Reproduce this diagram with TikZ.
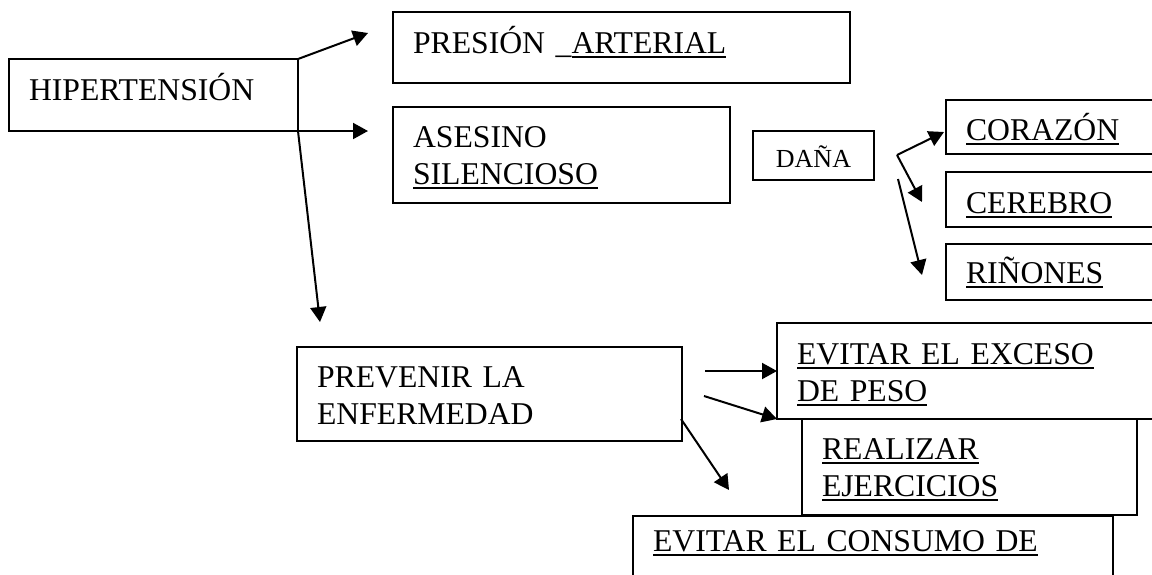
\documentclass[tikz,border=0pt]{standalone}
\usepackage{fontspec}
\setmainfont{Liberation Serif}
\usetikzlibrary{arrows.meta}
\newcommand{\undl}[1]{\leavevmode\setbox0\hbox{#1}\rlap{\rule[-5pt]{\wd0}{2pt}}\box0}

\begin{document}
\begin{tikzpicture}[x=1pt,y=-1pt]
\tikzset{box/.style = {draw,line width=1.5pt,anchor=north west,outer sep=0pt,inner xsep=20pt,inner ysep=0pt,align=left,font={\fontsize{31.7}{37}\selectfont}}}
\tikzset{edge/.style = {->,> = {Triangle[length=15pt,width=16pt]},line width=2pt}}
\useasboundingbox (0,0) rectangle (1152,574);
\clip (0,0) rectangle (1152,574);
% boxes
\node[box,text width=249pt,text height=41pt,text depth=31pt] (hip) at (9,59) {HIPERTENSIÓN};
\node[box,text width=417pt,text height=41pt,text depth=30pt] (pres) at (393,12) {PRESIÓN \_\undl{ARTERIAL}};
\node[box,text width=297pt,text height=40pt,text depth=56pt] (ases) at (393,107) {ASESINO\\\undl{SILENCIOSO}};
\node[box,text width=81pt,text height=36pt,text depth=13pt,align=center,font={\fontsize{26}{30}\selectfont}] (dana) at (753,131) {DAÑA};
\node[box,text width=220pt,text height=40pt,text depth=14pt] (cora) at (946,100) {\undl{CORAZÓN}};
\node[box,text width=220pt,text height=41pt,text depth=14pt] (cere) at (946,172) {\undl{CEREBRO}};
\node[box,text width=220pt,text height=39pt,text depth=17pt] (rin) at (946,244) {\undl{RIÑONES}};
\node[box,text width=345pt,text height=40pt,text depth=54pt] (prev) at (297,347) {PREVENIR LA\\ENFERMEDAD};
\node[box,text width=380pt,text height=41pt,text depth=55pt] (exce) at (777,323) {\undl{EVITAR EL EXCESO}\\\undl{DE PESO}};
\node[box,text width=295pt,text height=40pt,text depth=56pt] (ejer) at (802,419) {\undl{REALIZAR}\\\undl{EJERCICIOS}};
\node[box,text width=440pt,text height=35pt,text depth=80pt] (cons) at (633,516) {\undl{EVITAR EL CONSUMO DE}};
% arrow ends
\coordinate (tpres) at (368,33);
\coordinate (tases) at (368,131);
\coordinate (tprev) at (320,322);
\coordinate (fork) at (897,155);
\coordinate (tcora) at (944,132);
\coordinate (tcere) at (922,202);
\coordinate (forkb) at (898,179);
\coordinate (trin) at (922,275);
\coordinate (sexce) at (705,371);
\coordinate (sejer) at (704,396);
\coordinate (scons) at (681,419);
\coordinate (tcons) at (729,490);
%edges
\draw[edge] (hip.north east) to (tpres);
\draw[edge] (hip.south east) to (tases);
\draw[edge] (hip.south east) to (tprev);
\draw[edge] (fork) to (tcora);
\draw[edge] (fork) to (tcere);
\draw[edge] (forkb) to (trin);
\draw[edge] (sexce) to (exce.west);
\draw[edge] (sejer) to (exce.south west);
\draw[edge] (scons) to (tcons);
\end{tikzpicture}
\end{document}
